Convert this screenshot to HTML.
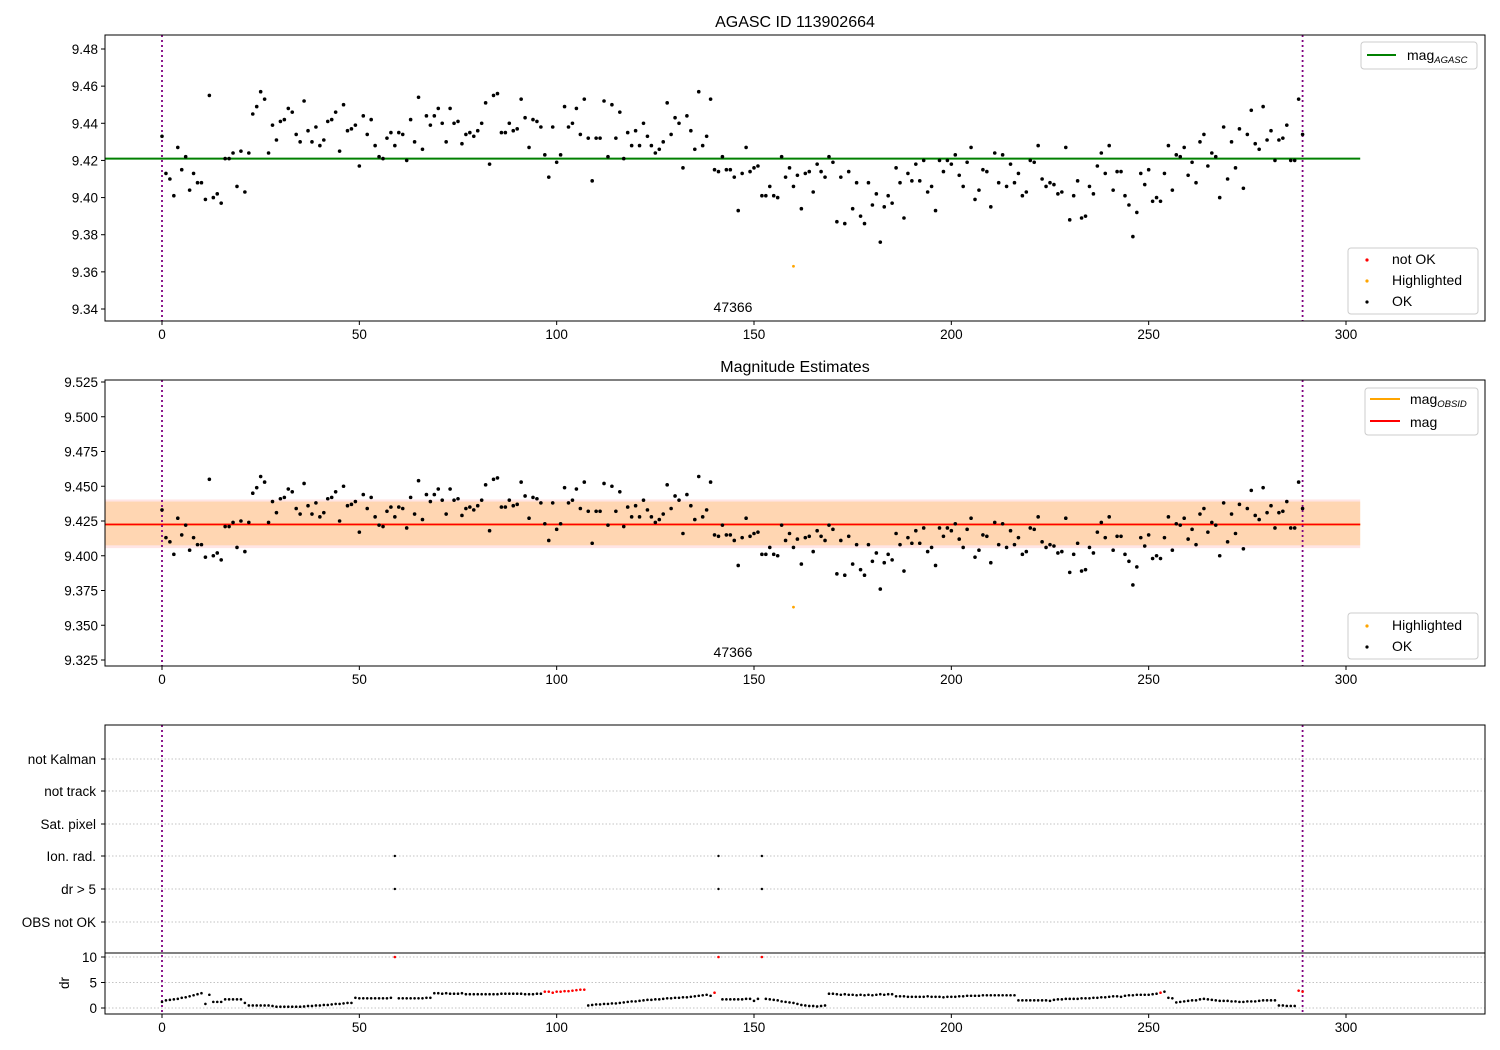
<!DOCTYPE html>
<html><head><meta charset="utf-8"><style>
html,body{margin:0;padding:0;background:#fff;}
svg{display:block;font-family:"Liberation Sans","DejaVu Sans",sans-serif;}
</style></head><body>
<svg id="chart" width="1500" height="1050" viewBox="0 0 1500 1050" xmlns="http://www.w3.org/2000/svg"></svg>
<script>
const magValues=[9.433,9.413,9.410,9.401,9.427,9.415,9.422,9.404,9.413,9.408,9.408,9.399,9.455,9.400,9.402,9.397,9.421,9.421,9.424,9.406,
9.425,9.403,9.424,9.445,9.449,9.457,9.453,9.424,9.439,9.431,9.441,9.442,9.448,9.446,9.434,9.430,9.452,9.436,9.430,9.438,
9.428,9.431,9.441,9.442,9.446,9.425,9.450,9.436,9.437,9.439,9.417,9.444,9.434,9.442,9.428,9.422,9.421,9.432,9.435,9.428,
9.435,9.434,9.420,9.442,9.430,9.454,9.426,9.444,9.439,9.444,9.448,9.440,9.430,9.448,9.440,9.441,9.429,9.434,9.435,9.433,
9.436,9.440,9.451,9.418,9.455,9.456,9.435,9.435,9.440,9.436,9.437,9.453,9.443,9.427,9.442,9.441,9.438,9.423,9.411,9.438,
9.419,9.423,9.449,9.438,9.440,9.448,9.434,9.453,9.432,9.409,9.432,9.432,9.452,9.422,9.450,9.432,9.446,9.421,9.435,9.428,
9.436,9.428,9.440,9.433,9.428,9.424,9.426,9.430,9.451,9.434,9.443,9.440,9.416,9.444,9.436,9.426,9.457,9.428,9.433,9.453,
9.415,9.414,9.422,9.415,9.415,9.411,9.393,9.413,9.427,9.414,9.416,9.417,9.401,9.401,9.406,9.401,9.400,9.422,9.411,9.416,
9.406,9.412,9.394,9.413,9.414,9.403,9.418,9.414,9.411,9.422,9.419,9.387,9.411,9.386,9.414,9.394,9.408,9.390,9.386,9.408,
9.396,9.402,9.376,9.395,9.401,9.397,9.416,9.408,9.389,9.413,9.409,9.418,9.409,9.420,9.403,9.406,9.393,9.420,9.414,9.420,
9.418,9.423,9.412,9.406,9.419,9.427,9.399,9.404,9.415,9.414,9.395,9.424,9.408,9.423,9.406,9.418,9.408,9.413,9.401,9.403,
9.420,9.419,9.428,9.410,9.406,9.408,9.407,9.402,9.403,9.427,9.388,9.401,9.409,9.389,9.390,9.406,9.402,9.417,9.424,9.413,
9.428,9.404,9.414,9.414,9.401,9.396,9.379,9.392,9.413,9.407,9.415,9.398,9.400,9.398,9.413,9.428,9.404,9.423,9.422,9.427,
9.412,9.419,9.408,9.430,9.434,9.417,9.424,9.422,9.400,9.438,9.410,9.430,9.416,9.437,9.405,9.434,9.447,9.429,9.426,9.449,
9.431,9.436,9.420,9.431,9.432,9.439,9.420,9.420,9.453,9.434];
const highlightedX=[160];
const highlightedMag=[9.363];
const magAgasc=9.421;
const magObsid=9.4225;
const magMean=9.4225;
const bandLow=9.4055;
const bandHigh=9.4405;
const obsBandLow=9.4075;
const obsBandHigh=9.4390;
const drValues=[1.2,1.5,1.6,1.7,1.8,2.0,2.1,2.3,2.5,2.7,2.9,0.8,2.6,1.2,1.2,1.2,1.7,1.7,1.7,1.7,
1.7,1.0,0.5,0.5,0.5,0.5,0.5,0.5,0.4,0.25,0.25,0.25,0.25,0.25,0.25,0.25,0.3,0.4,0.4,0.5,
0.5,0.6,0.6,0.7,0.8,0.8,0.9,1.0,1.0,2.0,1.9,1.9,1.9,1.9,1.9,1.9,1.9,1.9,2.0,10,
1.9,1.9,1.9,1.9,1.9,1.9,1.9,2.0,2.0,2.9,2.9,2.8,2.9,2.8,2.8,2.8,2.9,2.7,2.7,2.7,
2.7,2.7,2.7,2.7,2.7,2.7,2.8,2.8,2.8,2.8,2.8,2.8,2.7,2.7,2.7,2.8,2.8,3.2,3.2,3.0,
3.2,3.2,3.3,3.3,3.4,3.5,3.6,3.6,0.5,0.6,0.7,0.7,0.8,0.8,0.9,0.9,1.0,1.1,1.2,1.3,
1.3,1.4,1.5,1.6,1.6,1.7,1.7,1.8,1.9,1.9,2.0,2.0,2.1,2.1,2.2,2.3,2.4,2.5,2.6,2.4,
3.0,10,1.7,1.7,1.7,1.7,1.7,1.7,1.8,1.8,1.4,1.8,10,1.8,1.7,1.6,1.5,1.3,1.2,1.1,
1.0,0.8,0.6,0.5,0.4,0.4,0.3,0.4,0.5,2.8,2.8,2.7,2.6,2.7,2.6,2.6,2.5,2.6,2.5,2.6,
2.5,2.6,2.7,2.6,2.7,2.7,2.3,2.3,2.3,2.2,2.2,2.2,2.2,2.2,2.3,2.2,2.2,2.2,2.1,2.2,
2.2,2.2,2.3,2.3,2.4,2.4,2.4,2.4,2.5,2.5,2.5,2.5,2.5,2.5,2.5,2.5,2.5,1.5,1.5,1.5,
1.5,1.5,1.5,1.5,1.5,1.4,1.6,1.7,1.7,1.8,1.8,1.8,1.8,1.9,1.9,1.9,2.0,2.0,2.1,2.1,
2.2,2.3,2.3,2.2,2.4,2.5,2.5,2.6,2.6,2.6,2.6,2.7,2.8,3.0,3.2,2.0,1.9,1.1,1.2,1.3,
1.4,1.5,1.5,1.7,1.8,1.7,1.6,1.5,1.4,1.4,1.4,1.3,1.3,1.2,1.2,1.3,1.3,1.3,1.4,1.5,
1.5,1.5,1.5,0.5,0.5,0.4,0.4,0.4,3.4,3.2];
const drNotOk=[59,97,98,99,100,101,102,103,104,105,106,107,140,141,152,253,288,289];
const ionRadX=[59,141,152];
const drGt5X=[59,141,152];
const flagLabels=["not Kalman","not track","Sat. pixel","Ion. rad.","dr > 5","OBS not OK"];
const xTicks=[0,50,100,150,200,250,300];
const yTicks1=[9.34,9.36,9.38,9.40,9.42,9.44,9.46,9.48];
const yTicks2=[9.325,9.350,9.375,9.400,9.425,9.450,9.475,9.500,9.525];
const drTicks=[0,5,10];
const vLines=[0,289];
const obsLabel="47366";
const obsLabelX=144;

const NS="http://www.w3.org/2000/svg";
const svg=document.getElementById('chart');
function mk(tag,attrs,parent){const e=document.createElementNS(NS,tag);for(const k in attrs)e.setAttribute(k,attrs[k]);(parent||svg).appendChild(e);return e;}
const X0=105,X1=1485;
const xs=v=>162+(v)*(1346-162)/300;
const ys1=v=>49+(9.48-v)*260/0.14;
const ys2=v=>382+(9.525-v)*278/0.2;
const ysd=v=>1008-v*(1008-957)/10;
const flagY=[759,791,824,856,889,922];
const FS=13.5;

function frame(name,top,bottom){const r=mk('rect',{x:X0,y:top,width:X1-X0,height:bottom-top,fill:'none',stroke:'#000','stroke-width':1});

}
function xAxis(name,bottom,labels){const g=mk('g',{});


xTicks.forEach(t=>{mk('line',{x1:xs(t),x2:xs(t),y1:bottom,y2:bottom+4,stroke:'#000'},g);
if(labels){const tx=mk('text',{x:xs(t),y:bottom+18,'font-size':FS,'text-anchor':'middle'},g);tx.textContent=t;}});}
function yAxis(name,ticks,sc,fmt){const g=mk('g',{});


ticks.forEach(t=>{const y=sc(t);mk('line',{x1:X0-4,x2:X0,y1:y,y2:y,stroke:'#000'},g);
const tx=mk('text',{x:X0-7,y:y+5,'font-size':FS,'text-anchor':'end'},g);tx.textContent=t.toFixed(fmt);});}
function title(txt,y,name){const t=mk('text',{x:795,y:y,'font-size':16,'text-anchor':'middle'});t.textContent=txt;

}
function vline(top,bottom){vLines.forEach(v=>{const l=mk('line',{x1:xs(v),x2:xs(v),y1:top,y2:bottom,stroke:'#800080','stroke-width':1.8,'stroke-dasharray':'2,3'});

});}
function scatter(name,xsArr,vals,sc,color,r){const g=mk('g',{});


vals.forEach((v,i)=>{const c=mk('circle',{cx:xs(xsArr?xsArr[i]:i),cy:sc(v),r:r,fill:color},g);

});}
function legendBox(name,x,y,w,h){const r=mk('rect',{x:x,y:y,width:w,height:h,rx:3,fill:'#fff','fill-opacity':0.8,stroke:'#ccc'});

}
function legText(x,y,main,sub,name){const t=mk('text',{x:x,y:y,'font-size':14});t.textContent=main;
if(sub){const s=mk('tspan',{'font-size':9.5,'font-style':'italic',dy:3},t);s.textContent=sub;}

}

// ---------- Panel 1 ----------
title('AGASC ID 113902664',27,'top-title');
const gl1=mk('line',{x1:X0,x2:xs(303.6),y1:ys1(magAgasc),y2:ys1(magAgasc),stroke:'#008000','stroke-width':2});


vline(35,321);
scatter('ok-points-top',null,magValues,ys1,'#000',1.8);
scatter('highlighted-points-top',highlightedX,highlightedMag,ys1,'#ffa500',1.4);
let o1=mk('text',{x:733,y:312,'font-size':14,'text-anchor':'middle'});o1.textContent=obsLabel;


frame('top-plot-frame',35,321);
xAxis('top-x-axis',321,true);
yAxis('top-y-axis',yTicks1,ys1,2);
legendBox('top-legend-line',1361,42,116,27);
mk('line',{x1:1367,x2:1396,y1:55,y2:55,stroke:'#008000','stroke-width':2});
legText(1407,60,'mag','AGASC','legend-mag-agasc');
legendBox('top-legend-points',1348,248,130,66);
mk('circle',{cx:1367,cy:260,r:1.6,fill:'#ff0000'});
legText(1392,264,'not OK',null,'legend-not-ok');
mk('circle',{cx:1367,cy:281,r:1.6,fill:'#ffa500'});
legText(1392,285,'Highlighted',null,'legend-highlighted-top');
mk('circle',{cx:1367,cy:302,r:1.6,fill:'#000'});
legText(1392,306,'OK',null,'legend-ok-top');

// ---------- Panel 2 ----------
title('Magnitude Estimates',372,'middle-title');
const bx=X0, bw=xs(303.6)-X0;
let b1=mk('rect',{x:bx,y:ys2(bandHigh),width:bw,height:ys2(bandLow)-ys2(bandHigh),fill:'#ff0000','fill-opacity':0.1});


let b2=mk('rect',{x:bx,y:ys2(obsBandHigh),width:bw,height:ys2(obsBandLow)-ys2(obsBandHigh),fill:'#ffa500','fill-opacity':0.22});


let ol=mk('line',{x1:bx,x2:bx+bw,y1:ys2(magObsid),y2:ys2(magObsid),stroke:'#ffa500','stroke-width':2});


let rl=mk('line',{x1:bx,x2:bx+bw,y1:ys2(magMean),y2:ys2(magMean),stroke:'#ff0000','stroke-width':1.6});


vline(380,666);
scatter('ok-points-mid',null,magValues,ys2,'#000',1.8);
scatter('highlighted-points-mid',highlightedX,highlightedMag,ys2,'#ffa500',1.4);
let o2=mk('text',{x:733,y:657,'font-size':14,'text-anchor':'middle'});o2.textContent=obsLabel;


frame('middle-plot-frame',380,666);
xAxis('middle-x-axis',666,true);
yAxis('middle-y-axis',yTicks2,ys2,3);
legendBox('middle-legend-lines',1365,388,113,47);
mk('line',{x1:1370,x2:1400,y1:399,y2:399,stroke:'#ffa500','stroke-width':2});
legText(1410,404,'mag','OBSID','legend-mag-obsid');
mk('line',{x1:1370,x2:1400,y1:421,y2:421,stroke:'#ff0000','stroke-width':2});
legText(1410,427,'mag',null,'legend-mag');
legendBox('middle-legend-points',1348,613,130,46);
mk('circle',{cx:1367,cy:626,r:1.6,fill:'#ffa500'});
legText(1392,630,'Highlighted',null,'legend-highlighted-mid');
mk('circle',{cx:1367,cy:647,r:1.6,fill:'#000'});
legText(1392,651,'OK',null,'legend-ok-mid');

// ---------- Panel 3 (flags) ----------
flagLabels.forEach((lab,i)=>{mk('line',{x1:X0,x2:X1,y1:flagY[i],y2:flagY[i],stroke:'#b0b0b0','stroke-dasharray':'1.5,2','stroke-width':0.8});
mk('line',{x1:X0-4,x2:X0,y1:flagY[i],y2:flagY[i],stroke:'#000'});
const t=mk('text',{x:96,y:flagY[i]+5,'font-size':FS,'text-anchor':'end'});t.textContent=lab;

});
ionRadX.forEach(v=>{const c=mk('circle',{cx:xs(v),cy:flagY[3],r:1.2,fill:'#000'});

});
drGt5X.forEach(v=>{const c=mk('circle',{cx:xs(v),cy:flagY[4],r:1.2,fill:'#000'});

});
drTicks.forEach(t=>{mk('line',{x1:X0,x2:X1,y1:ysd(t),y2:ysd(t),stroke:'#b0b0b0','stroke-dasharray':'1.5,2','stroke-width':0.8});
mk('line',{x1:X0-4,x2:X0,y1:ysd(t),y2:ysd(t),stroke:'#000'});
const tx=mk('text',{x:97,y:ysd(t)+5,'font-size':FS,'text-anchor':'end'});tx.textContent=t;

});
const dl=mk('text',{x:0,y:0,'font-size':FS,'text-anchor':'middle',transform:'translate(69,983) rotate(-90)'});dl.textContent='dr';


vline(725,1014);
const gdr=mk('g',{});


drValues.forEach((v,i)=>{const bad=drNotOk.indexOf(i)>=0;const c=mk('circle',{cx:xs(i),cy:ysd(v),r:1.3,fill:bad?'#ff0000':'#000'},gdr);

});
frame('flags-plot-frame',725,953);
frame('dr-plot-frame',953,1014);
xAxis('bottom-x-axis',1014,true);
</script>
</body></html>
